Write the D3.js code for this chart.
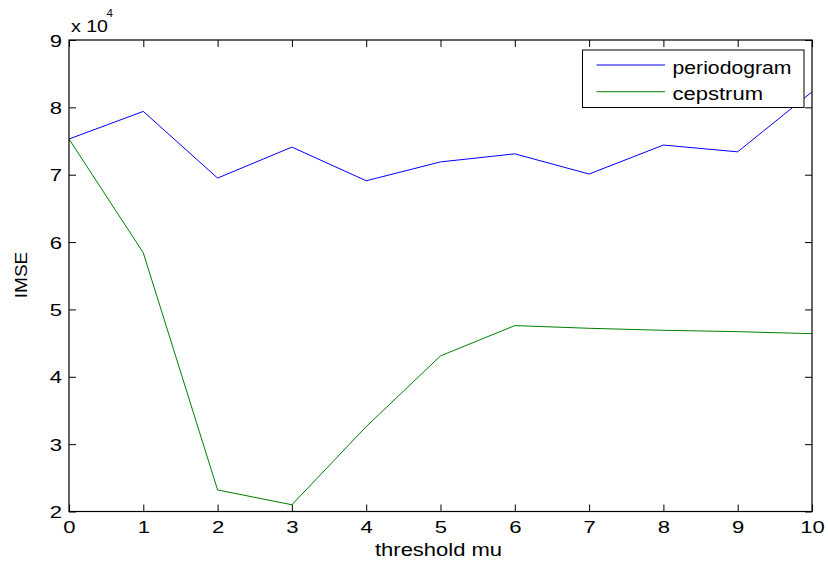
<!DOCTYPE html>
<html>
<head>
<meta charset="utf-8">
<script src="https://cdn.jsdelivr.net/npm/d3@7"></script>
<style>
  body { margin: 0; background: #fff; }
  svg { display: block; font-family: "Liberation Sans", Arial, Helvetica, sans-serif; }
</style>
</head>
<body>
<svg class="chart" width="828" height="563"></svg>
<script>
// data (values in units of 10^4)
var mu = [0, 1, 2, 3, 4, 5, 6, 7, 8, 9, 10];
var periodogram = [7.53, 7.94, 6.95, 7.41, 6.91, 7.19, 7.31, 7.01, 7.44, 7.34, 8.23];
var cepstrum = [7.53, 5.84, 2.32, 2.10, 3.26, 4.31, 4.76, 4.72, 4.69, 4.67, 4.64];
var xTicks = [0, 1, 2, 3, 4, 5, 6, 7, 8, 9, 10];
var yTicks = [2, 3, 4, 5, 6, 7, 8, 9];
var seriesNames = ["periodogram", "cepstrum"];
var seriesColors = ["#0000ff", "#008000"];

var svg = d3.select("svg.chart");
var margin = {top: 40, right: 16, bottom: 51.5, left: 69},
    width = 828 - margin.left - margin.right,
    height = 563 - margin.top - margin.bottom;
var stretch = 1.3; // the reference text is a bit wide

var g = svg.append("g").attr("transform", "translate(" + margin.left + "," + margin.top + ")");

var x = d3.scaleLinear().domain([0, 10]).range([0, width]);
var y = d3.scaleLinear().domain([2, 9]).range([height, 0]);

var line = d3.line()
  .x(function(d, i) { return x(mu[i]); })
  .y(function(d) { return y(d); });

// lines
[periodogram, cepstrum].forEach(function(s, i) {
  g.append("path")
    .datum(s)
    .attr("fill", "none")
    .attr("stroke", seriesColors[i])
    .attr("stroke-width", 1)
    .attr("d", line);
});

// axes, ticks pointing in, mirrored on top and right
var styleAxis = function(sel) {
  sel.select(".domain").remove();
  sel.selectAll("line").attr("stroke", "#000");
};
var xAxis = g.append("g").attr("transform", "translate(0," + height + ")")
  .call(d3.axisBottom(x).tickValues(xTicks).tickSize(-7).tickPadding(0).tickFormat(d3.format("d")));
xAxis.call(styleAxis);
xAxis.selectAll("text").attr("fill", "#000").attr("font-size", 17)
  .attr("y", 22).attr("dy", 0).attr("transform", "scale(" + stretch + ",1)");

var yAxis = g.append("g")
  .call(d3.axisLeft(y).tickValues(yTicks).tickSize(-7).tickPadding(0).tickFormat(d3.format("d")));
yAxis.call(styleAxis);
yAxis.selectAll("text").attr("fill", "#000").attr("font-size", 17)
  .attr("x", -7 / stretch).attr("dy", "0.36em").attr("transform", "scale(" + stretch + ",1)");

g.append("g").call(d3.axisTop(x).tickValues(xTicks).tickSize(-7).tickFormat(""))
  .call(styleAxis);
g.append("g").attr("transform", "translate(" + width + ",0)")
  .call(d3.axisRight(y).tickValues(yTicks).tickSize(-7).tickFormat(""))
  .call(styleAxis);

// box
g.append("rect")
  .attr("width", width).attr("height", height)
  .attr("fill", "none").attr("stroke", "#000").attr("stroke-width", 1.2);

// exponent
var expo = svg.append("text").attr("x", 71).attr("y", 32).attr("fill", "#000").attr("font-size", 17);
expo.append("tspan").text("x 10").attr("textLength", 37).attr("lengthAdjust", "spacingAndGlyphs");
expo.append("tspan").text("4").attr("x", 106.5).attr("y", 17).attr("font-size", 11.5);

// axis labels
svg.append("text")
  .attr("x", margin.left + width / 2 - 2).attr("y", 555.5)
  .attr("text-anchor", "middle").attr("font-size", 18).attr("fill", "#000")
  .attr("textLength", 127).attr("lengthAdjust", "spacingAndGlyphs")
  .text("threshold mu");

svg.append("text")
  .attr("transform", "translate(27,275) rotate(-90)")
  .attr("text-anchor", "middle").attr("font-size", 17).attr("fill", "#000")
  .attr("textLength", 46.5).attr("lengthAdjust", "spacingAndGlyphs")
  .text("IMSE");

// legend
var legend = svg.append("g").attr("transform", "translate(582.5,50)");
legend.append("rect")
  .attr("width", 221.5).attr("height", 57.5)
  .attr("fill", "#fff").attr("stroke", "#000").attr("stroke-width", 1);
var textLens = [119, 90.5];
seriesNames.forEach(function(name, i) {
  var ly = 15 + i * 26.7;
  legend.append("line")
    .attr("x1", 14).attr("x2", 82.5).attr("y1", ly).attr("y2", ly)
    .attr("stroke", seriesColors[i]).attr("stroke-width", 1);
  legend.append("text")
    .attr("x", 90).attr("y", ly + 8.7)
    .attr("font-size", 17.5).attr("fill", "#000")
    .attr("textLength", textLens[i]).attr("lengthAdjust", "spacingAndGlyphs")
    .text(name);
});
</script>
</body>
</html>
